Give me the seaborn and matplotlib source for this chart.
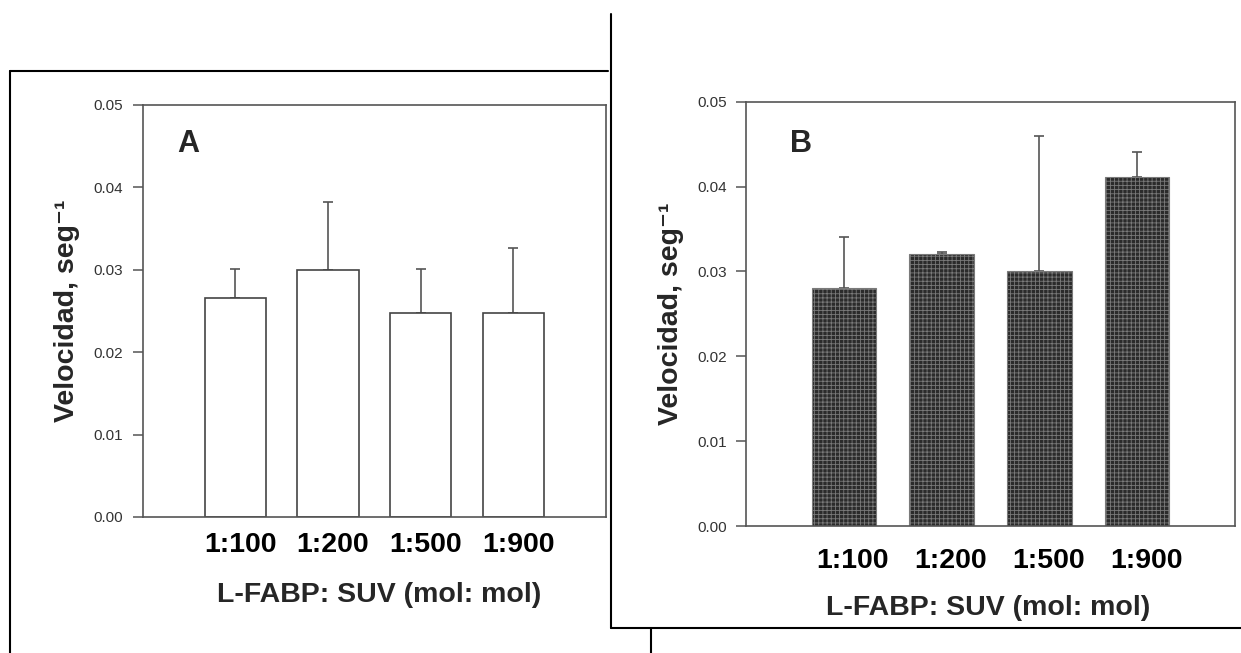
import numpy as np
import pandas as pd
import matplotlib
matplotlib.use("Agg")
import matplotlib.pyplot as plt
import matplotlib.transforms as mtransforms
from matplotlib.lines import Line2D
import seaborn as sns

# data
ratios = ["1:100", "1:200", "1:500", "1:900"]
vel_a = [0.0266, 0.0300, 0.0247, 0.0248]
err_a = [0.0035, 0.0082, 0.0054, 0.0079]
vel_b = [0.0280, 0.0321, 0.0300, 0.0411]
err_b = [0.0061, 0.0002, 0.0160, 0.0030]
yticks = [0.00, 0.01, 0.02, 0.03, 0.04, 0.05]

ylabel_txt = "Velocidad, seg\u207b\u00b9"
xlabel_txt = "L-FABP: SUV (mol: mol)"

sns.set_style("white")
plt.rcParams["font.family"] = ["Liberation Sans", "DejaVu Sans"]
plt.rcParams["hatch.linewidth"] = 0.6

W, H = 1241, 653
fig = plt.figure(figsize=(W / 100, H / 100), dpi=100)
fig.patch.set_facecolor("white")


def draw_panel(rect, vals, errs, letter, letter_pos, bar_kw, xpad, xshift, xlab_pos, ylab_x):
    ax = fig.add_axes(rect)
    df = pd.DataFrame({"ratio": ratios, "vel": vals})
    sns.barplot(data=df, x="ratio", y="vel", order=ratios, errorbar=None,
                width=0.66, ax=ax, **bar_kw)
    # only the upper half of the error bar, drawn behind the bars
    ax.errorbar(np.arange(len(ratios)), vals, yerr=[np.zeros(len(errs)), errs],
                fmt="none", ecolor="#555555", elinewidth=1.2, capsize=3.5,
                capthick=1.2, zorder=0.5)
    ax.set_xlim(-1, 4)
    ax.set_ylim(0, 0.05)
    ax.set_yticks(yticks)
    ax.set_yticklabels([f"{t:.2f}" for t in yticks])
    for s in ax.spines.values():
        s.set_visible(True)
        s.set_color("#555555")
        s.set_linewidth(1.2)
    ax.tick_params(axis="y", left=True, direction="out", length=7, width=1.1,
                   color="#555555", labelsize=11, labelcolor="#333333", pad=7)
    ax.tick_params(axis="x", length=0, labelsize=20.5, pad=xpad, labelcolor="black")
    offset = mtransforms.ScaledTranslation(xshift / 100, 0, fig.dpi_scale_trans)
    for lbl in ax.get_xticklabels():
        lbl.set_fontweight("bold")
        lbl.set_transform(lbl.get_transform() + offset)
    ax.set_xlabel(xlabel_txt, fontsize=20.5, fontweight="bold")
    ax.xaxis.set_label_coords(*xlab_pos)
    ax.set_ylabel(ylabel_txt, fontsize=20.5, fontweight="bold")
    ax.yaxis.set_label_coords(ylab_x, 0.5)
    ax.text(letter_pos[0], letter_pos[1], letter, transform=ax.transAxes,
            fontsize=22, fontweight="bold", ha="center", va="center")
    return ax


draw_panel([142.7 / W, 136 / H, 463.3 / W, 412 / H], vel_a, err_a, "A", (0.098, 0.905),
           dict(color="white", edgecolor="#444444", linewidth=1.2),
           xpad=11, xshift=5, xlab_pos=(0.51, -0.157), ylab_x=-0.135)

draw_panel([746 / W, 127 / H, 489 / W, 424.3 / H], vel_b, err_b, "B", (0.1125, 0.90),
           dict(color="#2b2b2b", edgecolor="#7a7a7a", linewidth=0.8, hatch="++++"),
           xpad=16, xshift=9, xlab_pos=(0.495, -0.163), ylab_x=-0.127)

# page frame lines around the two figure panels
frame = [((10, 71), (608, 71)), ((10, 71), (10, 653)),
         ((611, 14), (611, 628)), ((611, 628), (1241, 628)),
         ((651, 628), (651, 653))]
for (x0, y0), (x1, y1) in frame:
    fig.add_artist(Line2D([x0 / W, x1 / W], [1 - y0 / H, 1 - y1 / H],
                          transform=fig.transFigure, color="black", lw=1.5))

fig.savefig("out.png", dpi=100)
